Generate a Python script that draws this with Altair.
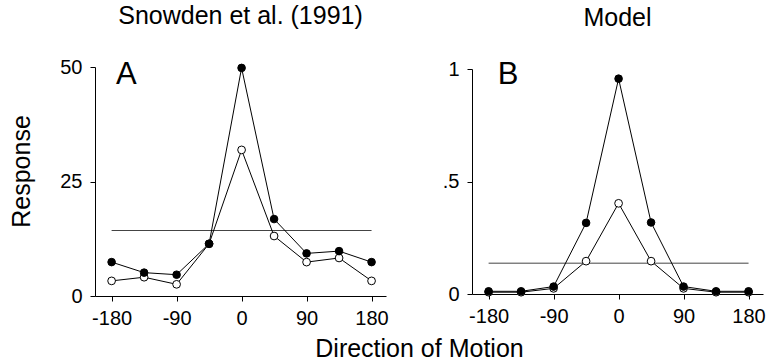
import altair as alt
import pandas as pd

FONT = "Liberation Sans"

directions = [-180, -135, -90, -45, 0, 45, 90, 135, 180]
a_filled = [7.4, 5.1, 4.65, 11.4, 49.8, 16.8, 9.3, 9.8, 7.4]
a_open = [3.3, 4.1, 2.55, 11.4, 31.9, 13.1, 7.4, 8.3, 3.3]
a_baseline = 14.3
b_filled = [0.012, 0.012, 0.033, 0.316, 0.957, 0.318, 0.033, 0.012, 0.012]
b_open = [0.008, 0.008, 0.025, 0.146, 0.403, 0.146, 0.025, 0.008, 0.008]
b_baseline = 0.137

x_ticks = [-180, -90, 0, 90, 180]
a_y_ticks = [0, 25, 50]
b_y_ticks = [0, 0.5, 1]
rule_span = [-180, 180]
x_domain = [-203, 200]


def panel(filled, opened, baseline, ydomain, yticks, height, title, letter,
          letter_x, letter_y, ylabel_expr=None, show_titles=False):
    df = pd.DataFrame({
        "dir": directions * 2,
        "val": filled + opened,
        "kind": ["filled"] * len(directions) + ["open"] * len(directions),
    })
    rule_df = pd.DataFrame({"x": [rule_span[0]], "x2": [rule_span[1]], "y": [baseline]})
    letter_df = pd.DataFrame({"x": [letter_x], "y": [letter_y], "t": [letter]})

    xaxis_kwargs = dict(values=x_ticks, title=None, labelExpr="'' + datum.value")
    if show_titles:
        xaxis_kwargs.update(dict(title="Direction of Motion",
                                 titleX=324, titleY=60, titleBaseline="alphabetic",
                                 titleAlign="center", titleFontSize=25,
                                 titleFont=FONT, titleFontWeight="normal"))
    yaxis_kwargs = dict(values=yticks, title=None)
    if ylabel_expr:
        yaxis_kwargs["labelExpr"] = ylabel_expr
    if show_titles:
        yaxis_kwargs.update(dict(title="Response", titleX=-66, titleY=104,
                                 titleBaseline="alphabetic", titleAlign="center",
                                 titleFontSize=25, titleFont=FONT,
                                 titleFontWeight="normal"))

    xs = alt.Scale(domain=x_domain, nice=False, zero=False)
    ys = alt.Scale(domain=ydomain, nice=False)

    base = alt.Chart(df)
    line = base.mark_line(color="black", strokeWidth=1).encode(
        x=alt.X("dir:Q", scale=xs, axis=alt.Axis(**xaxis_kwargs)),
        y=alt.Y("val:Q", scale=ys, axis=alt.Axis(**yaxis_kwargs)),
        detail="kind:N",
    )
    rule = alt.Chart(rule_df).mark_rule(color="#444444", strokeWidth=1).encode(
        x="x:Q", x2="x2:Q", y="y:Q"
    )
    open_pts = base.transform_filter(alt.datum.kind == "open").mark_point(
        shape="circle", filled=True, fill="white", stroke="black",
        strokeWidth=1, size=60, opacity=1
    ).encode(x="dir:Q", y="val:Q")
    filled_pts = base.transform_filter(alt.datum.kind == "filled").mark_point(
        shape="circle", filled=True, fill="black", stroke="black",
        strokeWidth=1, size=58, opacity=1
    ).encode(x="dir:Q", y="val:Q")
    label = alt.Chart(letter_df).mark_text(
        font=FONT, fontSize=31, align="left", baseline="alphabetic", color="black"
    ).encode(x="x:Q", y="y:Q", text="t:N")

    return alt.layer(rule, line, open_pts, filled_pts, label).properties(
        width=291, height=height,
        title=alt.TitleParams(title, fontSize=25, font=FONT, fontWeight="normal",
                              color="black", frame="group", anchor="middle",
                              offset=28),
    )


pa = panel(a_filled, a_open, a_baseline, [0, 50], a_y_ticks, 229,
           "Snowden et al. (1991)", "A", -174, 46.2, show_titles=True)
pb = panel(b_filled, b_open, b_baseline, [0, 1], b_y_ticks, 225,
           "Model", "B", -167.5, 0.933,
           ylabel_expr="datum.value == 0.5 ? '.5' : (datum.value == 1 ? '1' : '0')")

chart = alt.hconcat(pa, pb, spacing=86, bounds="flush", center=True).properties(
    padding={"left": 8, "top": 4, "right": 0, "bottom": 0}
).configure_view(stroke=None).configure_axis(
    domainColor="black", tickColor="black", labelColor="black", titleColor="black",
    labelFont=FONT, labelFontSize=20, tickSize=5, grid=False, domainWidth=1,
    tickWidth=1
).configure_axisX(labelPadding=7).configure_axisY(labelPadding=8)

chart.save("out.html", embed_options={"renderer": "svg", "actions": False})
